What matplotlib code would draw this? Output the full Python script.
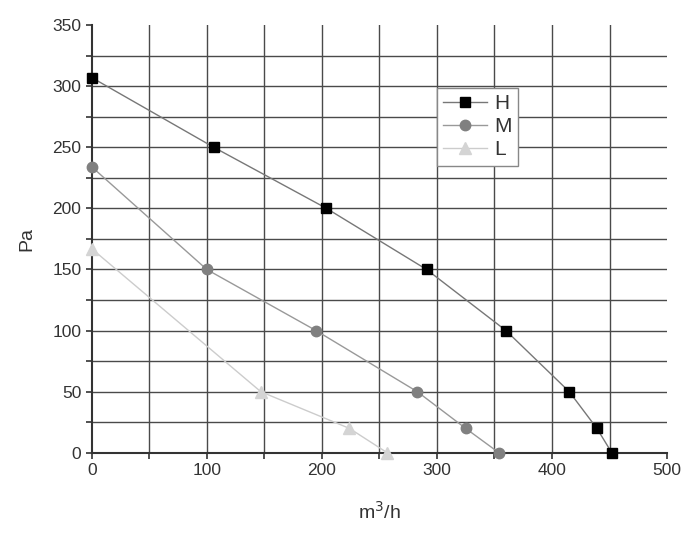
import matplotlib
matplotlib.use("Agg")
import matplotlib.pyplot as plt
from matplotlib.ticker import MultipleLocator

plt.rcParams['font.family'] = ['Liberation Sans', 'DejaVu Sans']

h_x = [0, 106, 204, 291, 360, 415, 439, 452]
h_y = [307, 250, 200, 150, 100, 50, 20, 0]
m_x = [0, 100, 195, 283, 325, 354]
m_y = [234, 150, 100, 50, 20, 0]
l_x = [0, 147, 224, 257]
l_y = [167, 50, 20, 0]

x_ticks = [0, 100, 200, 300, 400, 500]
y_ticks = [0, 50, 100, 150, 200, 250, 300, 350]

fig = plt.figure(figsize=(7, 5.43), dpi=100)
ax = fig.add_axes([0.131, 0.166, 0.822, 0.788])
ax.set_xlim(0, 500)
ax.set_ylim(0, 350)

# grid (excluding the outer limits)
for gx in range(50, 500, 50):
    ax.axvline(gx, color="#4a4a4a", lw=1.0, zorder=0)
for gy in range(25, 350, 25):
    ax.axhline(gy, color="#4a4a4a", lw=1.0, zorder=0)

ax.plot(h_x, h_y, color="#777777", lw=1.0, marker="s", markersize=6.5,
        markerfacecolor="black", markeredgecolor="black", label="H", zorder=3, clip_on=False)
ax.plot(m_x, m_y, color="#999999", lw=1.0, marker="o", markersize=7.5,
        markerfacecolor="#808080", markeredgecolor="#808080", label="M", zorder=3, clip_on=False)
ax.plot(l_x, l_y, color="#cccccc", lw=1.0, marker="^", markersize=8,
        markerfacecolor="#d4d4d4", markeredgecolor="#d4d4d4", label="L", zorder=3, clip_on=False)

ax.set_xticks(x_ticks)
ax.set_yticks(y_ticks)
ax.xaxis.set_minor_locator(MultipleLocator(50))
ax.yaxis.set_minor_locator(MultipleLocator(25))
ax.tick_params(which="both", direction="out", length=4, width=1.2, color="#333333",
               labelsize=12.5, labelcolor="#333333")
for s in ["top", "right"]:
    ax.spines[s].set_visible(False)
for s in ["left", "bottom"]:
    ax.spines[s].set_color("#333333")
    ax.spines[s].set_linewidth(1.5)

ax.set_xlabel("m$^3$/h", fontsize=14, color="#333333", labelpad=16)
ax.set_ylabel("Pa", fontsize=14, color="#333333", labelpad=12)

leg = ax.legend(loc="upper left", bbox_to_anchor=(0.600, 0.853), fontsize=15,
                frameon=True, fancybox=False, framealpha=1, edgecolor="#888888",
                handlelength=2.1, handletextpad=0.35, borderpad=0.3, labelspacing=0.2,
                borderaxespad=0)
leg.get_frame().set_linewidth(1.0)
for t in leg.get_texts():
    t.set_color("#333333")

fig.savefig("out.png", dpi=100)
